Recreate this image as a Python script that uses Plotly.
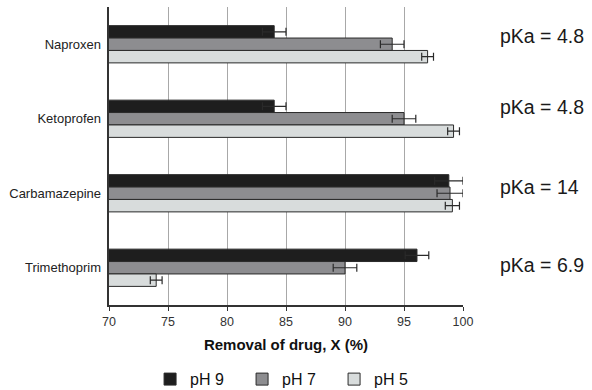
import plotly.graph_objects as go

drugs = ["Naproxen", "Ketoprofen", "Carbamazepine", "Trimethoprim"]
pka_labels = ["pKa = 4.8", "pKa = 4.8", "pKa = 14", "pKa = 6.9"]
series_names = ["pH 9", "pH 7", "pH 5"]
ph9 = [84.0, 84.0, 98.8, 96.1]
ph9_err = [1.0, 1.0, 1.2, 1.0]
ph7 = [94.0, 95.0, 98.9, 90.0]
ph7_err = [1.0, 1.0, 1.1, 1.0]
ph5 = [97.0, 99.2, 99.1, 74.0]
ph5_err = [0.5, 0.5, 0.6, 0.5]
colors = ["#1e1e1e", "#8d8d90", "#d8dcdc"]
label_shifts = [8, 12, 6, 3]

fig = go.Figure()
for name, vals, errs, col in zip(series_names, [ph9, ph7, ph5], [ph9_err, ph7_err, ph5_err], colors):
    fig.add_trace(go.Bar(
        y=drugs, x=vals, name=name, orientation="h",
        marker=dict(color=col, line=dict(color="#2a2a2a", width=1)),
        error_x=dict(type="data", array=errs, visible=True, color="#2a2a2a", thickness=1.2, width=4),
    ))

for d, t, s in zip(drugs, pka_labels, label_shifts):
    fig.add_annotation(x=1.099, xref="paper", y=d, yref="y", yshift=s, text=t,
                       showarrow=False, xanchor="left", yanchor="middle",
                       font=dict(family="Liberation Sans, Arial", size=19.5, color="#1a1a1a"))

fig.update_layout(
    width=592, height=390,
    margin=dict(l=109, r=129, t=7, b=85, autoexpand=False),
    plot_bgcolor="white", paper_bgcolor="white",
    barmode="group", bargap=0.5, bargroupgap=0,
    font=dict(family="Liberation Sans, Arial", size=12, color="#222"),
    legend=dict(orientation="h", x=0.116, xanchor="left", y=-0.249, yanchor="middle",
                font=dict(size=16, color="#111"), entrywidth=47, traceorder="normal"),
    showlegend=True,
)
fig.update_xaxes(range=[70, 100], dtick=5, tick0=70, showgrid=True, gridcolor="#a8a8a8", gridwidth=1.2,
                 showline=True, linecolor="#333", linewidth=1.5, ticks="outside", ticklen=4,
                 tickcolor="#333", tickfont=dict(size=12.5, color="#333"), zeroline=False,
                 title=dict(text="<b>Removal of drug, X (%)</b>", font=dict(size=15, color="#111"), standoff=12))
fig.update_yaxes(autorange="reversed", showline=True, linecolor="#333", linewidth=1.5,
                 tickfont=dict(size=13, color="#222"), ticks="", ticksuffix=" ")

fig.write_html("out.html")
